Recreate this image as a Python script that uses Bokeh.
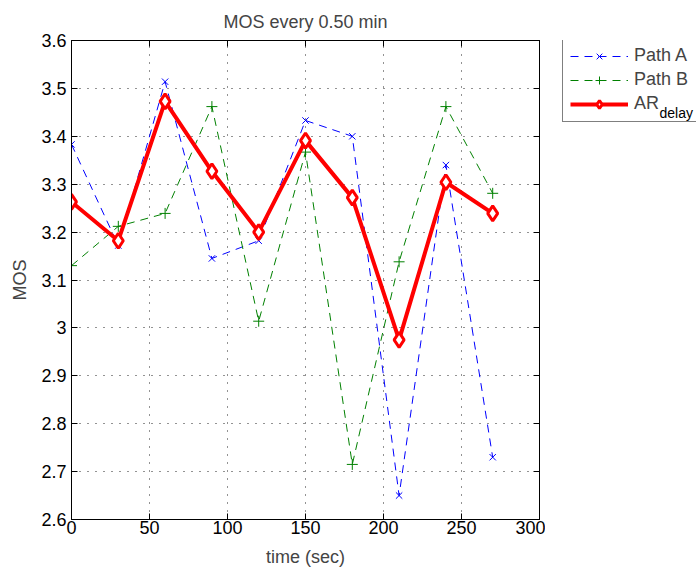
from bokeh.plotting import figure
from bokeh.layouts import row
from bokeh.models import (FixedTicker, CustomJSTickFormatter, LinearAxis, Legend,
                          LegendItem, Label, Range1d)
from bokeh.embed import file_html
from bokeh.resources import INLINE

# ---- data ----
time_sec = [0, 30, 60, 90, 120, 150, 180, 210, 240, 270]
path_a = [3.383, 3.172, 3.514, 3.145, 3.182, 3.433, 3.400, 2.650, 3.340, 2.730]
path_b = [3.130, 3.212, 3.239, 3.462, 3.014, 3.367, 2.715, 3.138, 3.462, 3.281]
ar_delay = [3.263, 3.182, 3.473, 3.327, 3.200, 3.391, 3.272, 2.975, 3.304, 3.239]
x_ticks = [0, 50, 100, 150, 200, 250, 300]
y_ticks = [2.6, 2.7, 2.8, 2.9, 3.0, 3.1, 3.2, 3.3, 3.4, 3.5, 3.6]
labels = ["Path A", "Path B", "AR"]
sub_label = "delay"
title_text = "MOS every 0.50 min"

FONT = "Liberation Sans"
FS = "18px"
BLUE, GREEN, RED = "#0000FF", "#008000", "#FF0000"

W1 = 545
p = figure(width=W1, height=569, output_backend="svg", toolbar_location=None,
           x_range=Range1d(0, 300), y_range=Range1d(2.6, 3.6),
           min_border_left=71, min_border_right=6, min_border_top=40,
           min_border_bottom=50, title=title_text, background_fill_color="white",
           border_fill_color="white")

p.title.text_font = FONT
p.title.text_font_size = FS
p.title.text_font_style = "normal"
p.title.align = "center"
p.title.standoff = 17

p.outline_line_color = "black"
p.outline_line_width = 1

fmt = CustomJSTickFormatter(code="return String(Math.round(tick*10)/10);")
blank = CustomJSTickFormatter(code="return '';")

for ax in [p.xaxis[0], p.yaxis[0]]:
    ax.major_label_text_font = FONT
    ax.major_label_text_font_size = FS
    ax.axis_label_text_font = FONT
    ax.axis_label_text_font_size = FS
    ax.axis_label_text_font_style = "normal"
    ax.major_tick_in = 6
    ax.major_tick_out = 0
    ax.minor_tick_in = 0
    ax.minor_tick_out = 0
    ax.axis_line_color = "black"
    ax.major_tick_line_color = "black"
    ax.major_label_text_color = "black"

p.xaxis[0].ticker = FixedTicker(ticks=x_ticks)
p.yaxis[0].ticker = FixedTicker(ticks=y_ticks)
p.yaxis[0].formatter = fmt
p.xaxis[0].axis_label = "time (sec)"
p.yaxis[0].axis_label = "MOS"
p.xaxis[0].major_label_standoff = 1
p.xaxis[0].axis_label_standoff = 10
p.yaxis[0].major_label_standoff = 5
p.yaxis[0].axis_label_standoff = 8

# ticks on top and right (box style)
top_ax = LinearAxis(ticker=FixedTicker(ticks=x_ticks), formatter=blank,
                    major_label_text_font_size="1px",
                    major_tick_in=6, major_tick_out=0, minor_tick_in=0, minor_tick_out=0,
                    major_label_standoff=0, axis_line_color="black")
right_ax = LinearAxis(ticker=FixedTicker(ticks=y_ticks), formatter=blank,
                      major_label_text_font_size="1px",
                      major_tick_in=6, major_tick_out=0, minor_tick_in=0, minor_tick_out=0,
                      major_label_standoff=0, axis_line_color="black")
p.add_layout(top_ax, "above")
p.add_layout(right_ax, "right")

p.xgrid.ticker = FixedTicker(ticks=x_ticks)
p.ygrid.ticker = FixedTicker(ticks=y_ticks)
for g in [p.xgrid[0], p.ygrid[0]]:
    g.grid_line_color = "black"
    g.grid_line_dash = "1 7"
    g.grid_line_alpha = 0.85


def draw(fig):
    la = fig.line(time_sec, path_a, line_color=BLUE, line_width=1, line_dash="8 6")
    ma = fig.scatter(time_sec, path_a, marker="x", size=9, line_color=BLUE, line_width=1)
    lb = fig.line(time_sec, path_b, line_color=GREEN, line_width=1, line_dash="8 6")
    mb = fig.scatter(time_sec, path_b, marker="cross", size=11, line_color=GREEN, line_width=1)
    lr = fig.line(time_sec, ar_delay, line_color=RED, line_width=4)
    mr = fig.scatter(time_sec, ar_delay, marker="diamond", size=15,
                     line_color=RED, line_width=3, fill_color="white")
    return [(la, ma), (lb, mb), (lr, mr)]


draw(p)

# ---- legend panel (separate canvas to the right of the axes) ----
W2 = 696 - W1
q = figure(width=W2, height=569, output_backend="svg", toolbar_location=None,
           x_range=Range1d(1000, 1001), y_range=Range1d(1000, 1001),
           x_axis_location=None, y_axis_location=None,
           min_border=0, min_border_left=0, min_border_right=0,
           min_border_top=0, min_border_bottom=0,
           background_fill_color="white", border_fill_color="white")
q.outline_line_color = None
q.xgrid.visible = False
q.ygrid.visible = False
rend = draw(q)

legend = Legend(items=[LegendItem(label=labels[i], renderers=list(rend[i])) for i in range(3)],
                location=(17, 397))
legend.label_text_font = FONT
legend.label_text_font_size = FS
legend.glyph_width = 58
legend.glyph_height = 20
legend.label_height = 20
legend.label_width = 75
legend.label_standoff = 6
legend.spacing = 3
legend.padding = 7
legend.margin = 0
legend.border_line_color = "black"
legend.border_line_width = 1
legend.background_fill_alpha = 0
q.add_layout(legend)

sub = Label(x=114, y=407, x_units="screen", y_units="screen", text=sub_label,
            text_font=FONT, text_font_size="14px", text_baseline="alphabetic",
            text_color="black", level="overlay")
q.add_layout(sub)

layout = row(p, q, spacing=0)
open("out.html", "w").write(file_html(layout, INLINE))
